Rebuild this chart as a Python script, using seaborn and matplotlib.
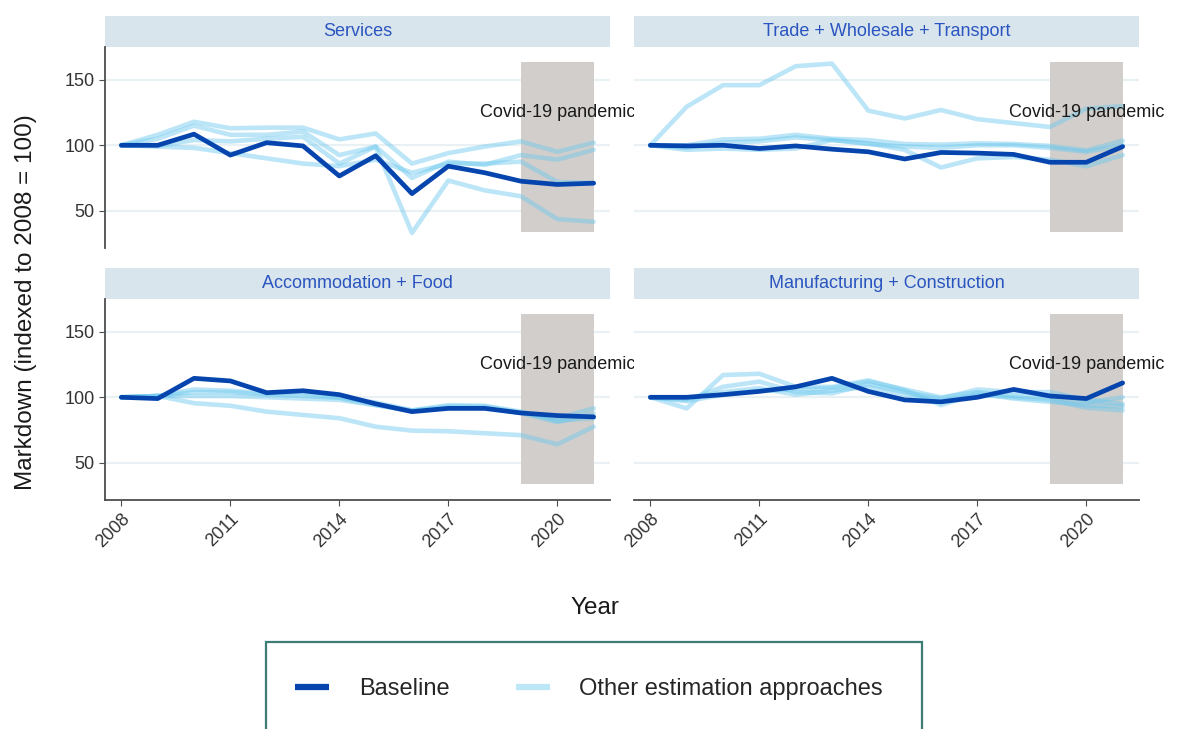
import matplotlib
matplotlib.use("Agg")
import matplotlib.pyplot as plt
import seaborn as sns
import pandas as pd
from matplotlib.patches import Rectangle
from matplotlib.lines import Line2D

years = list(range(2008, 2022))
sectors = ["Services", "Trade + Wholesale + Transport",
           "Accommodation + Food", "Manufacturing + Construction"]

services_base = [100, 100, 108.5, 92.5, 102, 99.5, 76.5, 92, 63, 84, 79, 72.5, 70, 71]
services_other = [
    [100, 108, 118, 113, 113.5, 113.5, 104.5, 109, 86, 94, 99, 103, 95, 102],
    [100, 105, 115, 108, 108, 110.5, 92.5, 99, 75, 87.5, 85, 92.5, 89, 96.5],
    [100, 99.5, 104, 103, 105, 106.5, 86, 99, 33, 73, 65.5, 61, 43.5, 41.5],
    [100, 99, 98, 94, 90, 86, 84, 89, 79, 86, 86, 87.5, 72, 71],
]

trade_base = [100, 99.5, 100, 97.5, 99.5, 97, 95, 89.5, 94.5, 94, 93, 87, 87, 99]
trade_other = [
    [100, 129.5, 146, 146, 160.5, 162.5, 126.5, 120.5, 127, 120, 117, 114, 128, 130],
    [100, 100, 104.5, 105, 108, 105, 104, 101, 100.5, 101.5, 101, 99.5, 96, 103.5],
    [100, 96.5, 97.5, 96.5, 97.5, 104, 101.5, 96.5, 83, 90, 91, 89, 84, 92.5],
    [100, 98, 102, 103, 106, 104, 101, 99, 98, 100, 100, 98, 95, 100],
]

accom_base = [100, 99, 114.5, 112.5, 103.5, 105, 102, 95, 89, 91.5, 91.5, 88, 86, 85]
accom_other = [
    [100, 101, 95.5, 93.5, 89, 86.5, 84, 77.5, 74.5, 74, 72.5, 71, 64, 77.5],
    [100, 101, 104, 104, 102, 101, 99.5, 94, 89.5, 93, 93, 88, 81, 87.5],
    [100, 101, 101, 101, 100, 99, 98, 94, 90, 92, 92, 88, 84, 91.5],
    [100, 101, 106, 105, 103, 103, 100, 96, 90, 94, 93.5, 89, 82, 84],
]

manuf_base = [100, 100, 102, 104.5, 108, 114.5, 104.5, 98, 96.5, 100, 106, 101, 99, 111]
manuf_other = [
    [100, 91.5, 117, 118, 108, 108, 113, 105.5, 94, 103, 99, 96.5, 94, 93],
    [100, 98, 108, 112, 104, 103, 110, 104, 99, 106, 104, 104, 98, 95],
    [100, 99, 104, 107, 102, 105, 108, 102, 97, 102, 100, 98, 92, 90],
    [100, 97, 102, 105, 106, 107, 112, 106, 100, 104, 101, 100, 96, 100],
]

base_by_sector = [services_base, trade_base, accom_base, manuf_base]
other_by_sector = [services_other, trade_other, accom_other, manuf_other]

covid_start, covid_end = 2019, 2021
covid_low, covid_high = 33.5, 163.5

rows = []
for sec, base, others in zip(sectors, base_by_sector, other_by_sector):
    for y, v in zip(years, base):
        rows.append((sec, "Baseline", "base", y, v))
    for i, series in enumerate(others):
        for y, v in zip(years, series):
            rows.append((sec, "Other estimation approaches", f"alt{i}", y, v))
df = pd.DataFrame(rows, columns=["sector", "approach", "run", "year", "value"])

dark_blue = "#0645ad"
light_blue = "#6cc8ee"
strip_bg = "#d9e5ec"
strip_txt = "#2a55c0"

sns.set_style("white")
plt.rcParams["font.family"] = ["Liberation Sans", "DejaVu Sans"]

fig = plt.figure(figsize=(11.77, 7.29), dpi=100)
W, H = 1177, 729
panels = [(105, 47), (634, 47), (105, 299), (634, 299)]
pw, ph = 505, 201

for k, sec in enumerate(sectors):
    x0, y0 = panels[k]
    ax = fig.add_axes([x0 / W, 1 - (y0 + ph) / H, pw / W, ph / H])
    sub = df[df["sector"] == sec]

    ax.add_patch(Rectangle((covid_start, covid_low), covid_end - covid_start,
                           covid_high - covid_low, facecolor="#d2cecb",
                           edgecolor="none", zorder=1))
    sns.lineplot(data=sub[sub["approach"] != "Baseline"], x="year", y="value",
                 units="run", estimator=None, color=light_blue, alpha=0.45,
                 linewidth=3.3, ax=ax, zorder=2, legend=False)
    sns.lineplot(data=sub[sub["approach"] == "Baseline"], x="year", y="value",
                 estimator=None, color=dark_blue, linewidth=3.4, ax=ax,
                 zorder=3, legend=False)
    ax.text(2020, 125, "Covid-19 pandemic", ha="center", va="center",
            fontsize=13, color="#1a1a1a", zorder=5, clip_on=False)

    ax.set_xlim(2007.55, 2021.45)
    ax.set_ylim(21.4, 175.2)
    ax.set_yticks([50, 100, 150])
    ax.set_xticks([2008, 2011, 2014, 2017, 2020])
    ax.set_xlabel("")
    ax.set_ylabel("")
    ax.yaxis.grid(True, color="#e9f1f4", linewidth=1.6, zorder=0)
    ax.set_axisbelow(True)
    for s in ax.spines.values():
        s.set_visible(False)

    if k % 2 == 0:
        ax.spines["left"].set_visible(True)
        ax.spines["left"].set_color("#4d4d4d")
        ax.spines["left"].set_linewidth(1.3)
        ax.tick_params(axis="y", length=4, color="#4d4d4d", labelsize=13,
                       labelcolor="#333333", left=True)
    else:
        ax.tick_params(axis="y", left=False, labelleft=False)

    if k >= 2:
        ax.spines["bottom"].set_visible(True)
        ax.spines["bottom"].set_color("#4d4d4d")
        ax.spines["bottom"].set_linewidth(1.3)
        ax.tick_params(axis="x", length=4, color="#4d4d4d", labelsize=13,
                       labelcolor="#333333", bottom=True)
        for lab in ax.get_xticklabels():
            lab.set_rotation(45)
            lab.set_ha("right")
            lab.set_rotation_mode("anchor")
    else:
        ax.tick_params(axis="x", bottom=False, labelbottom=False)

    sh = 31 / ph
    ax.add_patch(Rectangle((0, 1), 1, sh, transform=ax.transAxes,
                           facecolor=strip_bg, edgecolor="none", clip_on=False))
    ax.text(0.5, 1 + sh / 2, sec, transform=ax.transAxes, ha="center",
            va="center", fontsize=13, color=strip_txt)

fig.text(0.022, 1 - 302 / H, "Markdown (indexed to 2008 = 100)", rotation=90,
         ha="center", va="center", fontsize=17.5, color="#1a1a1a")
fig.text(595 / W, 1 - 608 / H, "Year", ha="center", va="center",
         fontsize=17.5, color="#1a1a1a")

fig.patches.append(Rectangle((266 / W, -0.05), (922 - 266) / W, 0.05 + 1 - 642 / H,
                             transform=fig.transFigure, facecolor="none",
                             edgecolor="#3e7d73", linewidth=1.6))
handles = [Line2D([], [], color=dark_blue, linewidth=4.5, solid_capstyle="butt"),
           Line2D([], [], color="#bde6f7", linewidth=4.5, solid_capstyle="butt")]
fig.legend(handles, ["Baseline", "Other estimation approaches"], loc="center",
           bbox_to_anchor=(589 / W, 1 - 689 / H), ncol=2, frameon=False,
           fontsize=17, handlelength=1.45, handletextpad=1.25, columnspacing=2.8)

fig.savefig("out.png", dpi=100)
